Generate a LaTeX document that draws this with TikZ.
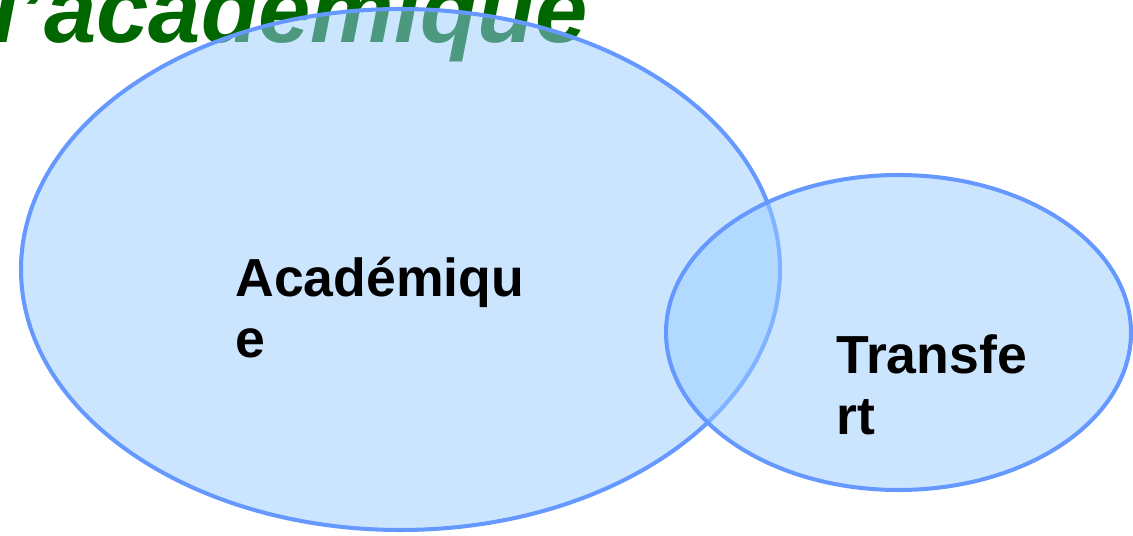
\documentclass[tikz,border=0pt]{standalone}
\usepackage{fontspec}
\setmainfont{Liberation Sans}
\usetikzlibrary{shapes.geometric}
\definecolor{titlegreen}{HTML}{006600}
\definecolor{setfill}{HTML}{99CCFF}
\definecolor{setline}{HTML}{6699FF}
\tikzset{
    setbox/.style={ellipse, draw=setline, fill=setfill, fill opacity=0.5, line width=2.3pt, inner sep=0pt},
    setlabel/.style={anchor=base west, align=left, inner sep=0pt, font=\fontsize{30.5}{35}\selectfont\bfseries}
}

\begin{document}
\begin{tikzpicture}[x=0.02cm, y=-0.02cm]
                \useasboundingbox (0,0) rectangle (1133,536);
                \node[anchor=base east, inner sep=0pt, text=titlegreen, font=\fontsize{53.5}{60}\selectfont\bfseries\itshape] (title) at (588,43) {l'académique};
                \node[setbox, minimum width=759*0.02cm, minimum height=521*0.02cm] (acad) at (400.5,269.5) {};
                \node[setbox, minimum width=465*0.02cm, minimum height=315*0.02cm] (transf) at (898.5,332.5) {};
                \node[setlabel] (acadtext) at (235,358) {Académiqu\\e};
                \node[setlabel] (transftext) at (836,435) {Transfe\\rt};
            \end{tikzpicture}
\end{document}
